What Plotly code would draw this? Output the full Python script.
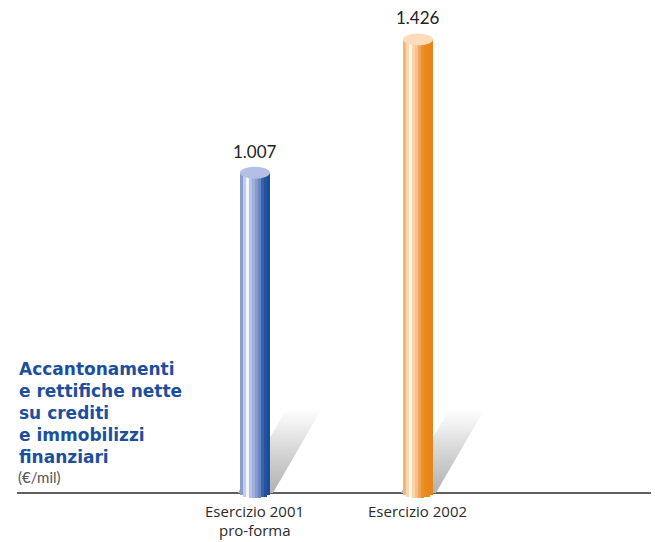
import numpy as np
import plotly.graph_objects as go

# ---- data -------------------------------------------------------------
categories = ["Esercizio 2001<br>pro-forma", "Esercizio 2002"]
values = [1007, 1426]
value_labels = ["1.007", "1.426"]
title_lines = ["Accantonamenti", "e rettifiche nette", "su crediti",
               "e immobilizzi", "finanziari"]
unit_label = "(€/mil)"

# ---- styling ----------------------------------------------------------
W, H = 655, 542
X_RANGE = [-1.564, 2.454]
Y_RANGE = [-154, 1550]
UX = (X_RANGE[1] - X_RANGE[0]) / W   # x units per pixel
UY = (Y_RANGE[1] - Y_RANGE[0]) / H   # y units per pixel

BAR_W_PX = 30
stripe_colors = [
    ["#8a9dd0", "#c3cdeb", "#f3f5fb", "#b7c3e5", "#9fb0dc",
     "#889acd", "#6f85c2", "#3562a9", "#2153a0", "#1b4c97"],
    ["#f3b678", "#fbd8ae", "#fff6ea", "#fcd5a6", "#f7c08a",
     "#f0a459", "#ec8f26", "#ea8a1e", "#e9871b", "#e8851a"],
]
cap_colors = ["#b3bfe4", "#fcdcb9"]
CAP_RY_PX = 6
BOTTOM_RY_PX = 5

fig = go.Figure()
shapes = []

# ---- ground shadows behind each cylinder -------------------------------
SH_H_PX, SH_SLOPE, N_SLICES = 84, 0.58, 42
for i in range(len(values)):
    for j in range(N_SLICES):
        h0 = SH_H_PX * j / N_SLICES
        h1 = SH_H_PX * (j + 1) / N_SLICES
        t = j / (N_SLICES - 1)
        g = int(180 + (255 - 180) * t ** 1.1)
        xl0 = i + (-17 + SH_SLOPE * h0) * UX
        xr0 = i + (18 + SH_SLOPE * h0) * UX
        xl1 = i + (-17 + SH_SLOPE * h1) * UX
        xr1 = i + (18 + SH_SLOPE * h1) * UX
        y0, y1 = h0 * UY, h1 * UY + 0.3 * UY
        shapes.append(dict(
            type="path", layer="below", xref="x", yref="y",
            path=f"M{xl0},{y0} L{xr0},{y0} L{xr1},{y1} L{xl1},{y1} Z",
            fillcolor=f"rgb({g},{g},{g})", line=dict(width=0)))

# ---- baseline ------------------------------------------------------------
shapes.append(dict(type="line", layer="below", xref="paper", yref="y",
                   x0=17 / W, x1=651 / W, y0=0, y1=0,
                   line=dict(color="#2b2b2b", width=1.3)))

# ---- cylinders built from vertical stripes -------------------------------
for i, v in enumerate(values):
    n = len(stripe_colors[i])
    sw_px = BAR_W_PX / n
    xs, bases, heights = [], [], []
    for k in range(n):
        off_px = -BAR_W_PX / 2 + (k + 0.5) * sw_px
        u = off_px / (BAR_W_PX / 2)
        base = -BOTTOM_RY_PX * UY * np.sqrt(max(0.0, 1 - u * u))
        xs.append(i + off_px * UX)
        bases.append(base)
        heights.append(v - base)
    fig.add_trace(go.Bar(
        x=xs, y=heights, base=bases, width=sw_px * UX * 1.08,
        marker=dict(color=stripe_colors[i], line=dict(width=0)),
        hoverinfo="skip", showlegend=False))
    # elliptical top cap
    shapes.append(dict(
        type="circle", layer="above", xref="x", yref="y",
        x0=i - BAR_W_PX / 2 * UX, x1=i + BAR_W_PX / 2 * UX,
        y0=v - CAP_RY_PX * UY, y1=v + CAP_RY_PX * UY,
        fillcolor=cap_colors[i], line=dict(width=0)))

annotations = []
# value labels
for i, (v, lab) in enumerate(zip(values, value_labels)):
    annotations.append(dict(
        x=i, y=v, xref="x", yref="y", text=lab, showarrow=False,
        yanchor="bottom", yshift=CAP_RY_PX + 3,
        font=dict(family="Lato", size=17, color="#222222")))
# category labels, one annotation per line
for i, c in enumerate(categories):
    for r, line in enumerate(c.split("<br>")):
        annotations.append(dict(
            x=i, y=0, xref="x", yref="y", text=line, showarrow=False,
            yanchor="middle", yshift=-(18 + 19 * r), borderpad=0,
            font=dict(family="Open Sans", size=15, color="#2a2a2a")))
# title block
annotations.append(dict(
    x=17 / W, y=1 - 357 / H, xref="paper", yref="paper",
    xanchor="left", yanchor="top", align="left", showarrow=False,
    text="<br>".join(title_lines),
    font=dict(family="DejaVu Sans", size=17, color="#1d4f9c", weight="bold")))
annotations.append(dict(
    x=16 / W, y=1 - 466 / H, xref="paper", yref="paper",
    xanchor="left", yanchor="top", align="left", showarrow=False,
    text=unit_label,
    font=dict(family="Lato", size=15, color="#555555")))

fig.update_layout(
    width=W, height=H, margin=dict(l=0, r=0, t=0, b=0),
    paper_bgcolor="white", plot_bgcolor="white",
    barmode="overlay", bargap=0,
    xaxis=dict(range=X_RANGE, visible=False, fixedrange=True),
    yaxis=dict(range=Y_RANGE, visible=False, fixedrange=True),
    shapes=shapes, annotations=annotations, showlegend=False)

fig.write_html("out.html")
